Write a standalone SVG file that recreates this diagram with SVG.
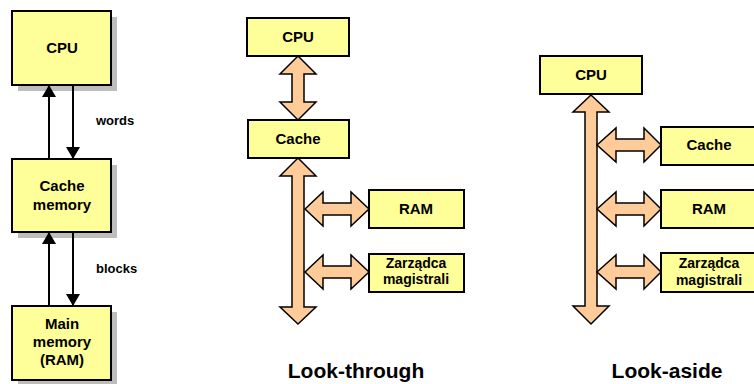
<svg xmlns="http://www.w3.org/2000/svg" width="754" height="384" viewBox="0 0 754 384">
<defs>
<style>
.box{fill:#FFFF99;stroke:#000;stroke-width:2}
.shadow{fill:#BDBDBD}
.t{font-family:"Liberation Sans",Arial,sans-serif;font-weight:bold;fill:#000;text-anchor:middle}
.l15{font-size:15px}
.l14{font-size:14px}
.l13{font-size:13px;text-anchor:start}
.cap{font-size:21px}
.line{stroke:#000;stroke-width:2;fill:none}
.bus{fill:#FFCC99;stroke:#000;stroke-width:1.5;stroke-linejoin:miter}
</style>
<marker id="ah" viewBox="0 0 12 14" refX="12" refY="7" markerWidth="12" markerHeight="14" markerUnits="userSpaceOnUse" orient="auto">
<path d="M0,0 L12,7 L0,14 Z" fill="#000"/>
</marker>
</defs>
<rect width="754" height="384" fill="#fff"/>

<!-- Left diagram -->
<g id="left-cpu">
<rect class="shadow" x="18" y="17" width="99" height="74"/>
<rect class="box" x="12" y="11" width="99" height="74"/>
<text class="t l15" x="62" y="53">CPU</text>
</g>
<g id="left-cache">
<rect class="shadow" x="18" y="165" width="99" height="73"/>
<rect class="box" x="12" y="159" width="99" height="73"/>
<text class="t l15" x="62" y="191">Cache</text>
<text class="t l15" x="62" y="210">memory</text>
</g>
<g id="left-main">
<rect class="shadow" x="18" y="312" width="99" height="74"/>
<rect class="box" x="12" y="306" width="99" height="74"/>
<text class="t l15" x="62" y="329">Main</text>
<text class="t l15" x="62" y="347">memory</text>
<text class="t l15" x="62" y="365">(RAM)</text>
</g>
<g id="left-connectors">
<line class="line" x1="49" y1="159" x2="49" y2="85" marker-end="url(#ah)"/>
<line class="line" x1="73" y1="85" x2="73" y2="159" marker-end="url(#ah)"/>
<line class="line" x1="49" y1="306" x2="49" y2="232" marker-end="url(#ah)"/>
<line class="line" x1="73" y1="232" x2="73" y2="306" marker-end="url(#ah)"/>
<text class="t l13" x="96" y="125">words</text>
<text class="t l13" x="96" y="273">blocks</text>
</g>

<!-- Middle: Look-through -->
<g id="lt-connectors">
<polygon class="bus" points="298,56 316,74 304,74 304,102 316,102 298,120 280,102 292,102 292,74 280,74"/>
<polygon class="bus" points="298,158 316,176 304,176 304,307 316,307 298,324 280,307 292,307 292,176 280,176"/>
<polygon class="bus" points="305,209 323,192 323,203 351,203 351,192 369,209 351,226 351,215 323,215 323,226"/>
<polygon class="bus" points="305,272 323,255 323,266 351,266 351,255 369,272 351,289 351,278 323,278 323,289"/>
</g>
<g id="lt-cpu">
<rect class="box" x="247" y="18" width="102" height="38"/>
<text class="t l15" x="298" y="42">CPU</text>
</g>
<g id="lt-cache">
<rect class="box" x="248" y="120" width="101" height="38"/>
<text class="t l15" x="298" y="144">Cache</text>
</g>
<g id="lt-ram">
<rect class="box" x="369" y="190" width="95" height="38"/>
<text class="t l15" x="416" y="214">RAM</text>
</g>
<g id="lt-zarzadca">
<rect class="box" x="369" y="254" width="95" height="38"/>
<text class="t l14" x="416" y="268">Zarządca</text>
<text class="t l14" x="416" y="284">magistrali</text>
</g>
<text class="t cap" x="356" y="378">Look-through</text>

<!-- Right: Look-aside -->
<g id="la-connectors">
<polygon class="bus" points="591,95 609,112 597,112 597,306 609,306 591,324 573,306 585,306 585,112 573,112"/>
<polygon class="bus" points="597,145 616,128 616,139 644,139 644,128 661,145 644,162 644,151 616,151 616,162"/>
<polygon class="bus" points="597,209 616,192 616,203 644,203 644,192 661,209 644,226 644,215 616,215 616,226"/>
<polygon class="bus" points="597,272 616,255 616,266 644,266 644,255 661,272 644,289 644,278 616,278 616,289"/>
</g>
<g id="la-cpu">
<rect class="box" x="540" y="56" width="102" height="38"/>
<text class="t l15" x="591" y="80">CPU</text>
</g>
<g id="la-cache">
<rect class="box" x="661" y="127" width="96" height="38"/>
<text class="t l15" x="709" y="150">Cache</text>
</g>
<g id="la-ram">
<rect class="box" x="661" y="190" width="96" height="38"/>
<text class="t l15" x="709" y="214">RAM</text>
</g>
<g id="la-zarzadca">
<rect class="box" x="661" y="253" width="96" height="39"/>
<text class="t l14" x="709" y="268">Zarządca</text>
<text class="t l14" x="709" y="285">magistrali</text>
</g>
<text class="t cap" x="667" y="378">Look-aside</text>
</svg>
